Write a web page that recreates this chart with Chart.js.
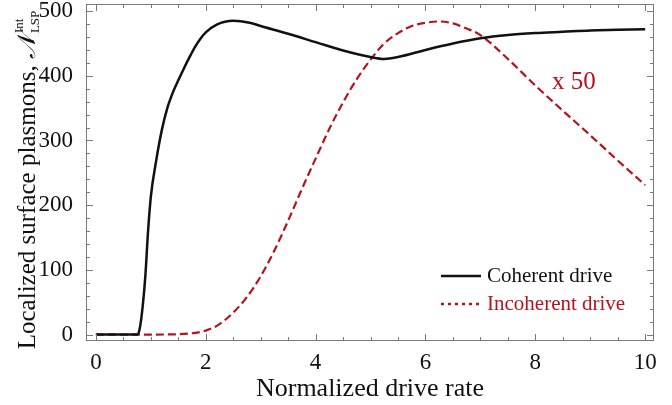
<!DOCTYPE html>
<html>
<head>
<meta charset="utf-8">
<script src="https://cdn.jsdelivr.net/npm/chart.js@4"></script>
<style>
  html, body { margin: 0; padding: 0; background: #ffffff; }
  #wrap { width: 672px; height: 405px; }
</style>
</head>
<body>
<div id="wrap"><canvas id="grafico"></canvas></div>
<script>
const corPreta = "#111111";
const corVermelha = "#b3141e";
const corEixo = "#7a7a7a";
const fonte = "'Liberation Serif', 'Times New Roman', serif";

// coherent drive (solid black)
const xCoerente = [0, 0.5, 0.76, 0.8, 0.85, 0.9, 0.95, 1.0, 1.1, 1.2, 1.3, 1.4, 1.5, 1.6, 1.7, 1.8, 1.9, 2.0, 2.2, 2.5, 2.8, 3.0, 3.5, 4.0, 4.5, 5.0, 5.25, 5.5, 6.0, 6.5, 7.0, 7.5, 8.0, 8.5, 9.0, 9.5, 10];
const yCoerente = [0, 0, 0, 10, 42, 90, 160, 213, 270, 316, 350, 374, 393, 411, 428, 444, 457, 467, 479, 485, 482, 477, 465, 452, 439, 429, 426, 429, 440, 450, 458, 463, 466, 468, 470, 471, 472];

// incoherent drive (dashed red, x 50)
const xIncoerente = [0, 1.0, 1.5, 1.75, 2.0, 2.25, 2.5, 2.75, 3.0, 3.25, 3.5, 3.75, 4.0, 4.25, 4.5, 4.75, 5.0, 5.25, 5.5, 5.75, 6.0, 6.25, 6.5, 6.75, 7.0, 7.5, 8.0, 8.5, 9.0, 9.5, 10];
const yIncoerente = [0, 0, 0.5, 2, 6, 16, 34, 58, 90, 130, 176, 225, 272, 318, 359, 395, 425, 450, 466, 477, 482, 484, 481, 473, 463, 426, 385, 346, 308, 269, 231];

const ticksX = [0, 2, 4, 6, 8, 10];
const ticksY = [0, 100, 200, 300, 400, 500];
const legendas = ["Coherent drive", "Incoherent drive"];
const anotacao = "x 50";

function pares(xs, ys) {
  return xs.map((x, i) => ({ x: x, y: ys[i] }));
}

// frame on four sides with inward ticks, y title, legend, annotation
const pluginMoldura = {
  id: "moldura",
  afterDraw(chart) {
    const { ctx, chartArea: a, scales } = chart;
    const sx = scales.x, sy = scales.y;
    ctx.save();
    ctx.strokeStyle = corEixo;
    ctx.lineWidth = 1;
    ctx.strokeRect(a.left + 0.5, a.top + 0.5, a.right - a.left - 1, a.bottom - a.top - 1);

    ctx.beginPath();
    for (let v = 0; v <= 10.001; v += 0.5) {
      const px = Math.round(sx.getPixelForValue(v)) + 0.5;
      const len = Math.abs(v % 2) < 0.01 ? 7 : 4;
      ctx.moveTo(px, a.bottom); ctx.lineTo(px, a.bottom - len);
      ctx.moveTo(px, a.top); ctx.lineTo(px, a.top + len);
    }
    for (let v = 0; v <= 500; v += 20) {
      const py = Math.round(sy.getPixelForValue(v)) + 0.5;
      const len = v % 100 === 0 ? 7 : 4;
      ctx.moveTo(a.left, py); ctx.lineTo(a.left + len, py);
      ctx.moveTo(a.right, py); ctx.lineTo(a.right - len, py);
    }
    ctx.stroke();

    // y title with sub/superscript
    ctx.translate(35, 180);
    ctx.rotate(-Math.PI / 2);
    ctx.fillStyle = corPreta;
    ctx.textBaseline = "alphabetic";
    ctx.textAlign = "left";
    const principal = "Localized surface plasmons, ";
    ctx.font = "25px " + fonte;
    const w1 = ctx.measureText(principal).width;
    ctx.font = "italic 25px " + fonte;
    const w2 = ctx.measureText("\u{1D4A9}").width;
    ctx.font = "13px " + fonte;
    const w3 = Math.max(ctx.measureText("LSP").width, ctx.measureText("Int").width);
    let x0 = -(w1 + w2 + 2 + w3) / 2;
    ctx.font = "25px " + fonte;
    ctx.fillText(principal, x0, 0);
    ctx.font = "italic 25px " + fonte;
    ctx.fillText("\u{1D4A9}", x0 + w1, 0);
    ctx.font = "13px " + fonte;
    ctx.fillText("LSP", x0 + w1 + w2 + 2, 4);
    ctx.fillText("Int", x0 + w1 + w2 + 2, -12);
    ctx.setTransform(1, 0, 0, 1, 0, 0);

    // legend
    const cores = [corPreta, corVermelha];
    const tracos = [[], [3, 4]];
    const ys = [276, 304];
    ctx.font = "21px " + fonte;
    ctx.textBaseline = "middle";
    legendas.forEach((txt, i) => {
      ctx.strokeStyle = cores[i];
      ctx.lineWidth = 2.5;
      ctx.setLineDash(tracos[i]);
      ctx.beginPath();
      ctx.moveTo(441, ys[i]); ctx.lineTo(481, ys[i]);
      ctx.stroke();
      ctx.fillStyle = cores[i];
      ctx.fillText(txt, 487, ys[i]);
    });
    ctx.setLineDash([]);

    // annotation
    ctx.font = "25px " + fonte;
    ctx.fillStyle = corVermelha;
    ctx.fillText(anotacao, 552, 82);
    ctx.restore();
  }
};

new Chart(document.getElementById("grafico"), {
  type: "scatter",
  data: {
    datasets: [
      {
        label: legendas[0],
        data: pares(xCoerente, yCoerente),
        showLine: true,
        borderColor: corPreta,
        borderWidth: 2.5,
        pointRadius: 0,
        cubicInterpolationMode: "monotone"
      },
      {
        label: legendas[1],
        data: pares(xIncoerente, yIncoerente),
        showLine: true,
        borderColor: corVermelha,
        borderWidth: 2.2,
        borderDash: [8, 4],
        pointRadius: 0,
        cubicInterpolationMode: "monotone"
      }
    ]
  },
  options: {
    responsive: true,
    maintainAspectRatio: false,
    animation: false,
    layout: { padding: { top: 4, right: 18, left: 0, bottom: 0 } },
    plugins: {
      legend: { display: false },
      tooltip: { enabled: false }
    },
    scales: {
      x: {
        type: "linear",
        min: -0.18,
        max: 10.16,
        afterBuildTicks: (s) => { s.ticks = ticksX.map(v => ({ value: v })); },
        afterFit: (s) => { s.height = 64; s.paddingLeft = 0; s.paddingRight = 0; },
        grid: { display: false },
        border: { display: false },
        ticks: {
          color: corPreta,
          padding: 0,
          font: { family: fonte, size: 23 }
        },
        title: {
          display: true,
          text: "Normalized drive rate",
          color: corPreta,
          padding: { top: 0, bottom: 0 },
          font: { family: fonte, size: 26 }
        }
      },
      y: {
        type: "linear",
        min: -10,
        max: 511,
        afterBuildTicks: (s) => { s.ticks = ticksY.map(v => ({ value: v })); },
        afterFit: (s) => { s.width = 86; s.paddingTop = 0; s.paddingBottom = 0; },
        grid: { display: false },
        border: { display: false },
        ticks: {
          color: corPreta,
          padding: 5,
          font: { family: fonte, size: 23 }
        }
      }
    }
  },
  plugins: [pluginMoldura]
});
</script>
</body>
</html>
